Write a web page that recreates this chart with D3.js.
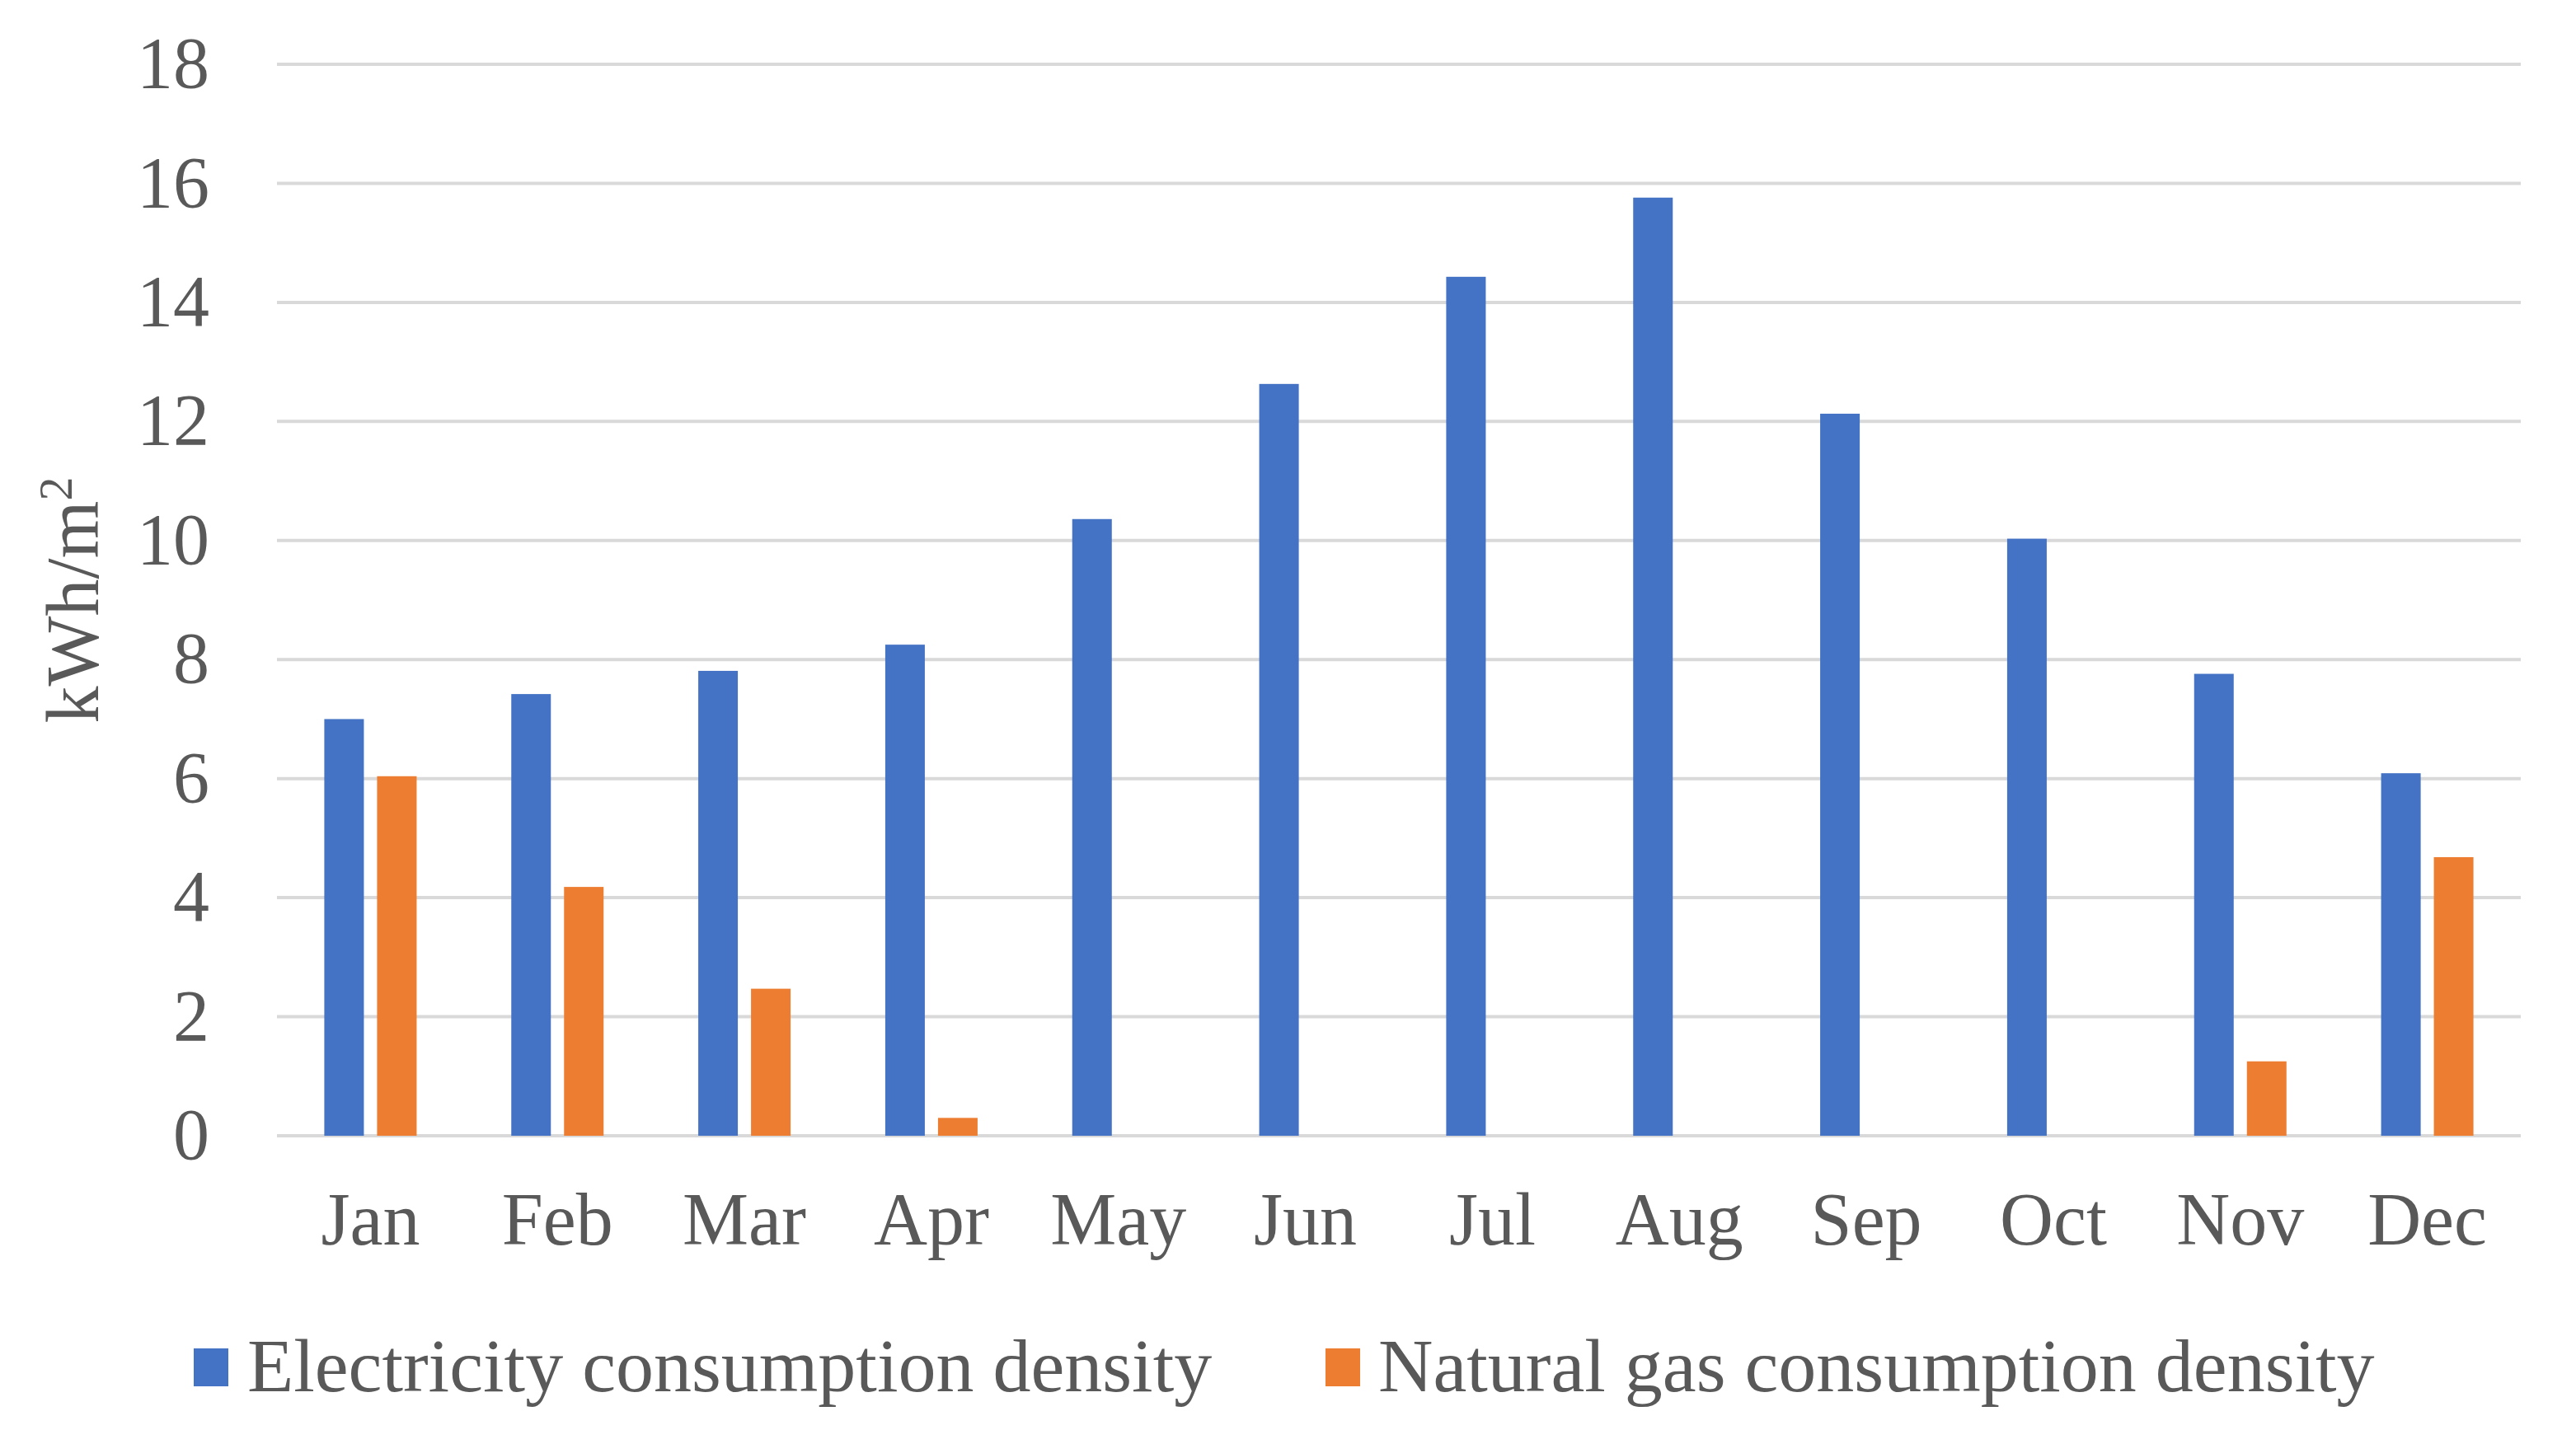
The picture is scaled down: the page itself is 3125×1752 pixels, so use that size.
<!DOCTYPE html>
<html>
<head>
<meta charset="utf-8">
<script src="https://cdn.jsdelivr.net/npm/d3@7"></script>
<style>
    body { margin: 0; background: #fff; }
    svg text { font-family: "Liberation Serif", "Times New Roman", serif; fill: #595959; }
</style>
</head>
<body>
<div id="chart"></div>
<script>
const months = ['Jan', 'Feb', 'Mar', 'Apr', 'May', 'Jun', 'Jul', 'Aug', 'Sep', 'Oct', 'Nov', 'Dec'];
const seriesNames = ['Electricity consumption density', 'Natural gas consumption density'];
const electricity = [7.0, 7.42, 7.81, 8.25, 10.36, 12.63, 14.43, 15.76, 12.13, 10.03, 7.76, 6.09];
const naturalGas = [6.04, 4.18, 2.47, 0.3, 0, 0, 0, 0, 0, 0, 1.25, 4.68];
const yTicks = [0, 2, 4, 6, 8, 10, 12, 14, 16, 18];
const colors = ['#4472C4', '#ED7D31'];

(function() {
    const width = 3125;
    const height = 1752;
    const plotLeft = 336, plotRight = 3058, plotTop = 78, plotBottom = 1378;

    const svg = d3.select('#chart')
        .append('svg')
        .attr('width', width)
        .attr('height', height)
        .attr('viewBox', `0 0 ${width} ${height}`);

    const x0 = d3.scaleBand().domain(months).range([plotLeft, plotRight]);
    const groupWidth = 112;
    const x1 = d3.scaleBand().domain(seriesNames).range([0, groupWidth]).paddingInner(0.25);
    const y = d3.scaleLinear().domain([0, 18]).range([plotBottom, plotTop]);

    // gridlines
    svg.append('g')
        .selectAll('line')
        .data(yTicks)
        .join('line')
        .attr('x1', plotLeft)
        .attr('x2', plotRight)
        .attr('y1', d => y(d))
        .attr('y2', d => y(d))
        .attr('stroke', '#D9D9D9')
        .attr('stroke-width', 4);

    // y tick labels
    svg.append('g')
        .selectAll('text')
        .data(yTicks)
        .join('text')
        .attr('x', 254)
        .attr('y', d => y(d))
        .attr('dy', '0.32em')
        .attr('text-anchor', 'end')
        .style('font-size', '88px')
        .text(d => d);

    // bars
    const rows = months.map((m, i) => ({ month: m, values: [electricity[i], naturalGas[i]] }));
    const groups = svg.append('g')
        .selectAll('g')
        .data(rows)
        .join('g')
        .attr('transform', d => `translate(${x0(d.month) + (x0.bandwidth() - groupWidth) / 2},0)`);

    groups.selectAll('rect')
        .data(d => d.values.map((v, k) => ({ key: seriesNames[k], value: v, k })))
        .join('rect')
        .attr('x', d => x1(d.key))
        .attr('width', x1.bandwidth())
        .attr('y', d => y(d.value))
        .attr('height', d => y(0) - y(d.value))
        .attr('fill', d => colors[d.k]);

    // x labels
    svg.append('g')
        .selectAll('text')
        .data(months)
        .join('text')
        .attr('x', d => x0(d) + x0.bandwidth() / 2)
        .attr('y', 1510)
        .attr('text-anchor', 'middle')
        .style('font-size', '90px')
        .text(d => d);

    // y axis title
    const yTitle = svg.append('text')
        .attr('transform', 'translate(119,728) rotate(-90)')
        .attr('text-anchor', 'middle')
        .style('font-size', '90px');
    yTitle.append('tspan').text('kWh/m');
    yTitle.append('tspan').attr('baseline-shift', 'super').style('font-size', '58px').text('2');

    // legend
    const legendPos = [{ sq: 235, tx: 300 }, { sq: 1608, tx: 1672 }];
    const legend = svg.append('g')
        .selectAll('g')
        .data(seriesNames)
        .join('g');

    legend.append('rect')
        .attr('x', (d, i) => legendPos[i].sq)
        .attr('y', 1636)
        .attr('width', 42)
        .attr('height', 46)
        .attr('fill', (d, i) => colors[i]);

    legend.append('text')
        .attr('x', (d, i) => legendPos[i].tx)
        .attr('y', 1688)
        .style('font-size', '92px')
        .text(d => d);
})();
</script>
</body>
</html>
